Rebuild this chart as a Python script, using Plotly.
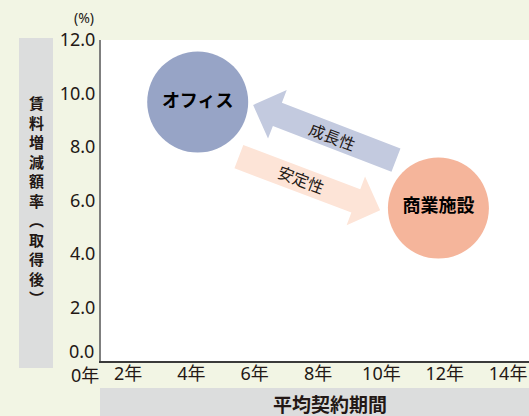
import math
import plotly.graph_objects as go

# ---------------- data ----------------
categories = ["オフィス", "商業施設"]
contract_years = [4.2, 11.8]        # 平均契約期間 (年)
rent_change = [9.68, 5.72]          # 賃料増減額率 (%)
circle_colors = ["#97a4c6", "#f5b59b"]

arrow_labels = ["成長性", "安定性"]
arrow_tail_x = [10.46, 5.50]
arrow_tail_y = [7.51, 7.64]
arrow_tip_x = [5.95, 9.96]
arrow_tip_y = [9.57, 5.64]
arrow_label_x = [8.44, 7.46]
arrow_label_y = [8.36, 6.77]
arrow_colors = ["#c3cadf", "#fde4d7"]

x_tick_vals = [2, 4, 6, 8, 10, 12, 14]
x_tick_text = ["2年", "4年", "6年", "8年", "10年", "12年", "14年"]
y_tick_vals = [2, 4, 6, 8, 10, 12]
y_tick_text = ["2.0", "4.0", "6.0", "8.0", "10.0", "12.0"]

y_title = "賃料増減額率︵取得後︶"
x_title = "平均契約期間"

# ---------------- layout geometry ----------------
W, H = 529, 416
ML, MR, MT, MB = 101, 0, 40, 55
PW, PH = W - ML - MR, H - MT - MB
XR = [1.147, 14.66]
YR = [0, 12]
sx = PW / (XR[1] - XR[0])
sy = PH / (YR[1] - YR[0])

BG = "#f2f5e4"
BOX = "#dcdddd"
TXT = "#231815"
FONT = "Noto Sans, Noto Sans CJK JP, sans-serif"


def to_px(x, y):
    return ((x - XR[0]) * sx, (YR[1] - y) * sy)


def to_data(px, py):
    return (XR[0] + px / sx, YR[1] - py / sy)


def px_paper(px, py):
    return ((px - ML) / PW, (MT + PH - py) / PH)


def arrow_path(tx, ty, hx, hy, shaft_w=25, head_w=52, head_len=26):
    ax, ay = to_px(tx, ty)
    bx, by = to_px(hx, hy)
    L = math.hypot(bx - ax, by - ay)
    dx, dy = (bx - ax) / L, (by - ay) / L
    nx, ny = -dy, dx
    cx, cy = bx - dx * head_len, by - dy * head_len
    pts = [
        (ax + nx * shaft_w / 2, ay + ny * shaft_w / 2),
        (cx + nx * shaft_w / 2, cy + ny * shaft_w / 2),
        (cx + nx * head_w / 2, cy + ny * head_w / 2),
        (bx, by),
        (cx - nx * head_w / 2, cy - ny * head_w / 2),
        (cx - nx * shaft_w / 2, cy - ny * shaft_w / 2),
        (ax - nx * shaft_w / 2, ay - ny * shaft_w / 2),
    ]
    d = [to_data(*p) for p in pts]
    path = "M " + " L ".join(f"{x:.4f},{y:.4f}" for x, y in d) + " Z"
    angle = math.degrees(math.atan2(by - ay, bx - ax))
    return path, angle


fig = go.Figure()

fig.add_trace(go.Scatter(
    x=contract_years, y=rent_change,
    mode="markers+text",
    text=[f"<b>{c}</b>" for c in categories],
    textposition="middle center",
    textfont=dict(family=FONT, size=18, color="#000000"),
    marker=dict(size=101, color=circle_colors, line=dict(width=0)),
    hoverinfo="skip", showlegend=False, cliponaxis=False,
))

shapes = []
annotations = []
for i in range(len(arrow_labels)):
    path, ang = arrow_path(arrow_tail_x[i], arrow_tail_y[i], arrow_tip_x[i], arrow_tip_y[i])
    shapes.append(dict(type="path", path=path, xref="x", yref="y",
                       fillcolor=arrow_colors[i], line=dict(width=0), layer="below"))
    ta = ang if -90 <= ang <= 90 else ang - 180
    annotations.append(dict(x=arrow_label_x[i], y=arrow_label_y[i], xref="x", yref="y",
                            text=arrow_labels[i], showarrow=False, textangle=ta,
                            font=dict(family=FONT, size=16, color=TXT)))

# title boxes
x0, y0 = px_paper(19, 38)
x1, y1 = px_paper(53, 368)
shapes.append(dict(type="rect", xref="paper", yref="paper", x0=x0, x1=x1, y0=y1, y1=y0,
                   fillcolor=BOX, line=dict(width=0), layer="below"))
x0, y0 = px_paper(100, 388)
x1, y1 = px_paper(529, 416)
shapes.append(dict(type="rect", xref="paper", yref="paper", x0=x0, x1=x1, y0=y1, y1=y0,
                   fillcolor=BOX, line=dict(width=0), layer="below"))

# vertical y title (stacked characters)
px_, py_ = px_paper(36.5, 200)
annotations.append(dict(x=px_, y=py_, xref="paper", yref="paper",
                        text="<b>" + "<br>".join(y_title) + "</b>",
                        showarrow=False, xanchor="center", yanchor="middle", align="center",
                        font=dict(family="Noto Sans CJK JP", size=15, color=TXT)))

px_, py_ = px_paper(330, 403)
annotations.append(dict(x=px_, y=py_, xref="paper", yref="paper", text=f"<b>{x_title}</b>",
                        showarrow=False, xanchor="center", yanchor="middle",
                        font=dict(family="Noto Sans CJK JP", size=19, color=TXT)))

# special zero labels and unit
px_, py_ = px_paper(96, 351)
annotations.append(dict(x=px_, y=py_, xref="paper", yref="paper", text="0.0", showarrow=False,
                        xanchor="right", yanchor="middle", font=dict(family=FONT, size=18, color=TXT)))
px_, py_ = px_paper(101, 375)
annotations.append(dict(x=px_, y=py_, xref="paper", yref="paper", text="0年", showarrow=False,
                        xanchor="right", yanchor="middle", font=dict(family=FONT, size=18, color=TXT)))
px_, py_ = px_paper(84, 17)
annotations.append(dict(x=px_, y=py_, xref="paper", yref="paper", text="(%)", showarrow=False,
                        xanchor="center", yanchor="middle", font=dict(family=FONT, size=14, color=TXT)))

fig.update_layout(
    width=W, height=H,
    margin=dict(l=ML, r=MR, t=MT, b=MB, pad=0),
    paper_bgcolor=BG, plot_bgcolor="#ffffff",
    shapes=shapes, annotations=annotations,
    xaxis=dict(range=XR, tickvals=x_tick_vals, ticktext=x_tick_text, showgrid=False,
               zeroline=False, showline=True, linecolor="#3a3a3a", linewidth=1.5,
               ticks="", ticklabelstandoff=-4,
               tickfont=dict(family=FONT, size=18, color=TXT), fixedrange=True),
    yaxis=dict(range=YR, tickvals=y_tick_vals, ticktext=y_tick_text, showgrid=False,
               zeroline=False, showline=True, linecolor="#7f7f7f", linewidth=2,
               ticks="", tickfont=dict(family=FONT, size=18, color=TXT), fixedrange=True),
)

fig.write_html("out.html")
